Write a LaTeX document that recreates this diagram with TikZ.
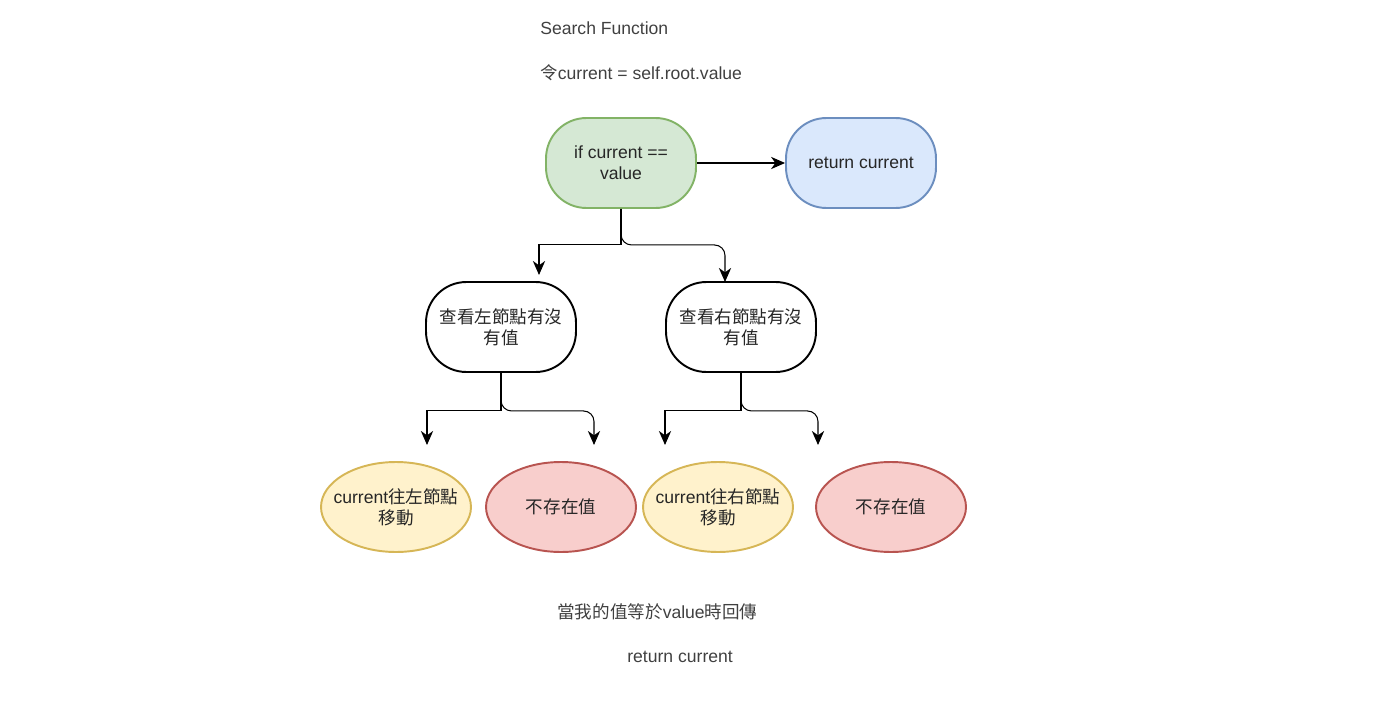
\documentclass[tikz,border=0pt]{standalone}
\usepackage{fontspec}
\setmainfont{Liberation Sans}
\newfontfamily\cjk{Noto Sans CJK TC}
\newcommand{\zh}[1]{{\cjk #1}}
\usepackage{xcolor}
\usepackage{tikz}
\usetikzlibrary{positioning, shapes.geometric, arrows.meta}

\definecolor{gfill}{HTML}{D5E8D4}
\definecolor{gdraw}{HTML}{82B366}
\definecolor{bfill}{HTML}{DAE8FC}
\definecolor{bdraw}{HTML}{6C8EBF}
\definecolor{yfill}{HTML}{FFF2CC}
\definecolor{ydraw}{HTML}{D6B656}
\definecolor{rfill}{HTML}{F8CECC}
\definecolor{rdraw}{HTML}{B85450}

\begin{document}
\begin{tikzpicture}[
    x=0.02cm, y=-0.02cm,
    font=\fontsize{10}{12}\selectfont, text=black!85,
    block/.style={rectangle, draw=black, line width=1.1pt, fill=white, minimum width=3cm, minimum height=1.8cm, rounded corners=23pt, align=center, inner sep=2pt},
    oval/.style={ellipse, line width=1.1pt, minimum width=3cm, minimum height=1.8cm, align=center, inner xsep=-7pt, inner ysep=0pt},
    label/.style={anchor=west, inner sep=0pt, text=black!75},
    arrow/.style={line width=0.6pt, -{Stealth[length=8pt, width=7pt, inset=2.5pt]}, color=black}
]
\useasboundingbox (0,0) rectangle (1386,713);

% Titles
\node [label] (title) at (540,28) {Search Function};
\node [label] (init) at (540,73) {\zh{令}current = self.root.value};

% Define main nodes
\node [block, draw=gdraw, fill=gfill] (cond) at (621,163) {if current ==\\value};
\node [block, draw=bdraw, fill=bfill] (ret) at (861,163) {return current};
\node [block] (lchk) at (501,327) {\zh{查看左節點有沒}\\\zh{有值}};
\node [block] (rchk) at (741,327) {\zh{查看右節點有沒}\\\zh{有值}};

% Leaves
\node [oval, draw=ydraw, fill=yfill] (lmove) at (396,507) {current\zh{往左節點}\\\zh{移動}};
\node [oval, draw=rdraw, fill=rfill] (lnone) at (561,507) {\zh{不存在值}};
\node [oval, draw=ydraw, fill=yfill] (rmove) at (718,507) {current\zh{往右節點}\\\zh{移動}};
\node [oval, draw=rdraw, fill=rfill] (rnone) at (891,507) {\zh{不存在值}};

% Arrow ends
\coordinate (lchkin) at (539,275);
\coordinate (rchkin) at (725,282);
\coordinate (lmovein) at (427,445);
\coordinate (lnonein) at (594,445);
\coordinate (rmovein) at (665,445);
\coordinate (rnonein) at (818,445);

% Connectors
\draw [arrow] (cond) -- (ret);
\draw [arrow] (cond.south) -- ++(0,36) -| (lchkin);
\draw [arrow, rounded corners=6pt] (cond.south) -- ++(0,36) -| (rchkin);
\draw [arrow] (lchk.south) -- ++(0,38) -| (lmovein);
\draw [arrow, rounded corners=6pt] (lchk.south) -- ++(0,38) -| (lnonein);
\draw [arrow] (rchk.south) -- ++(0,38) -| (rmovein);
\draw [arrow, rounded corners=6pt] (rchk.south) -- ++(0,38) -| (rnonein);

% Notes
\node [label] (note) at (557,612) {\zh{當我的值等於}value\zh{時回傳}};
\node [label] (noteret) at (627,657) {return current};

\end{tikzpicture}
\end{document}
